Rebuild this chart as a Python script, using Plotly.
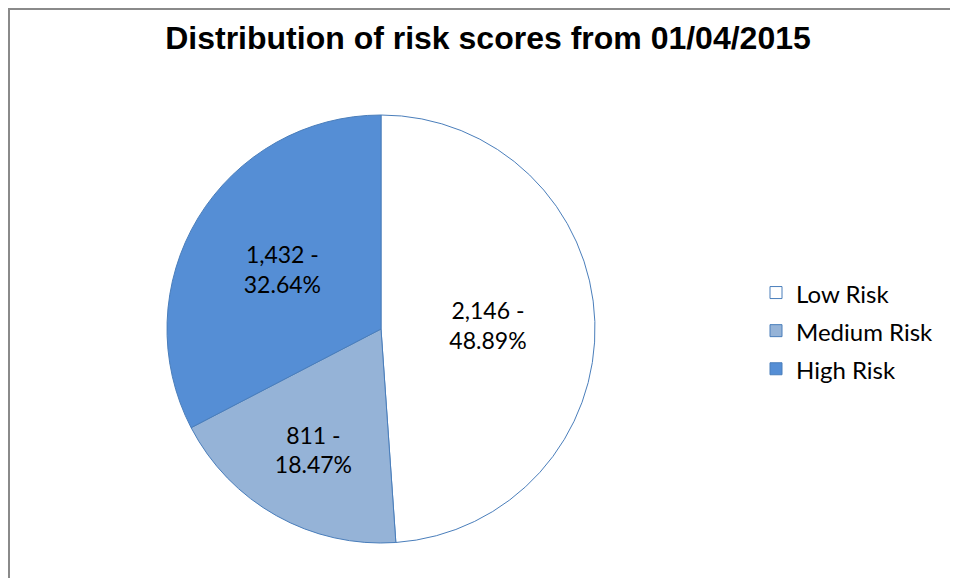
import plotly.graph_objects as go

categories = ["Low Risk", "Medium Risk", "High Risk"]
counts = [2146, 811, 1432]
percent_labels = [48.89, 18.47, 32.64]
colors = ["#ffffff", "#95b3d7", "#558ed5"]
title_text = "Distribution of risk scores from 01/04/2015"

labels_text = [f"{v:,} -<br>{p:.2f}%" for v, p in zip(counts, percent_labels)]
legend_names = [f"<span style='font-size:24px'>{c}</span>" for c in categories]

# page body has an 8px margin, so the figure is offset by 8px
OFF = 8
W, H = 958 - OFF, 578 - OFF
cx, cy, r = 381 - OFF, 329 - OFF, 214

fig = go.Figure(go.Pie(
    labels=legend_names,
    values=counts,
    text=labels_text,
    textinfo="text",
    textposition="inside",
    insidetextorientation="horizontal",
    textfont=dict(family="Lato, Carlito, sans-serif", size=23, color="#000000"),
    marker=dict(colors=colors, line=dict(color="#4a7ebb", width=1)),
    sort=False,
    direction="clockwise",
    rotation=0,
    domain=dict(x=[(cx - r) / W, (cx + r) / W], y=[1 - (cy + r) / H, 1 - (cy - r) / H]),
    hoverinfo="value+percent",
))

fig.update_layout(
    width=W, height=H,
    margin=dict(l=0, r=0, t=0, b=0),
    paper_bgcolor="white",
    title=dict(text=f"<b>{title_text}</b>", x=(488 - OFF) / W, xanchor="center",
               y=1 - (38 - OFF) / H, yanchor="middle",
               font=dict(family="Liberation Sans, Arial, sans-serif", size=32, color="#000000")),
    legend=dict(x=(756 - OFF) / W, xanchor="left", y=1 - (331 - OFF) / H, yanchor="middle",
                font=dict(family="Lato, Carlito, sans-serif", size=27, color="#000000"),
                bgcolor="rgba(0,0,0,0)"),
    shapes=[
        dict(type="line", xref="paper", yref="paper", x0=1 / W, x1=1 / W, y0=0, y1=1,
             line=dict(color="#8a8a8a", width=2)),
        dict(type="line", xref="paper", yref="paper", x0=0, x1=1, y0=1 - 1 / H, y1=1 - 1 / H,
             line=dict(color="#8a8a8a", width=2)),
    ],
)

fig.write_html("out.html")
